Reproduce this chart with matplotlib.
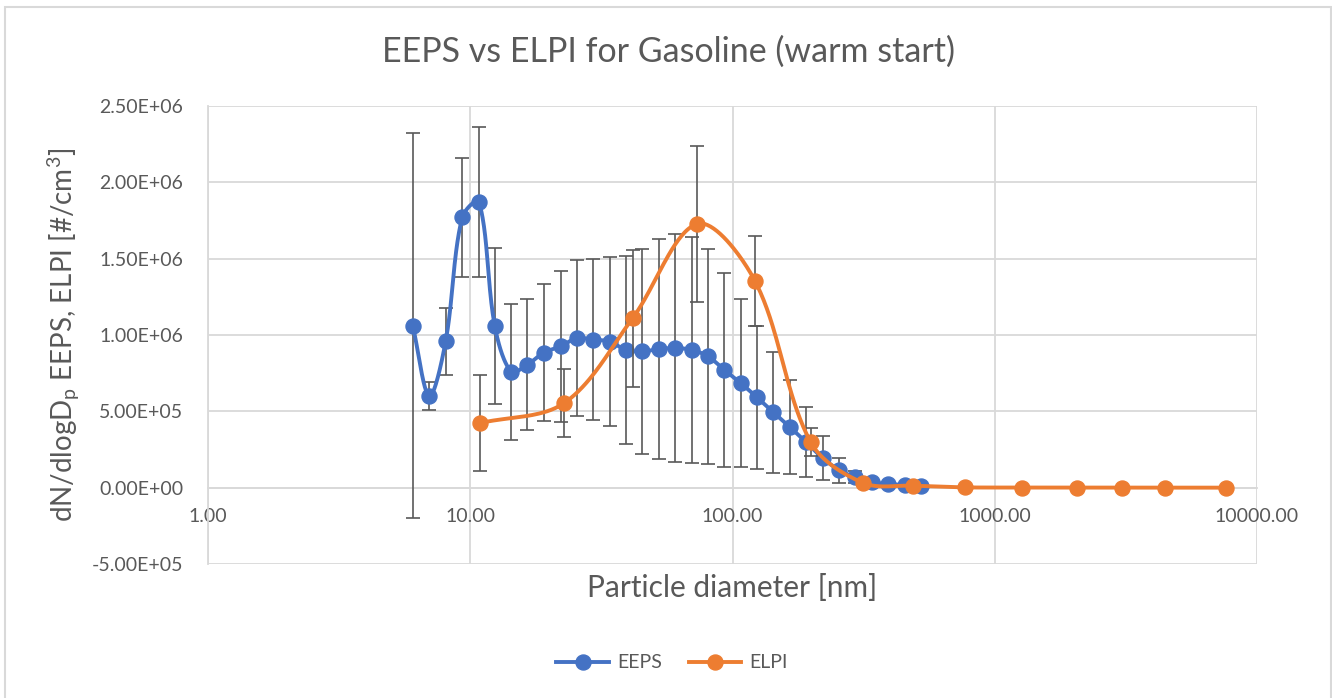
import numpy as np
import matplotlib
matplotlib.use("Agg")
import matplotlib.pyplot as plt
from matplotlib.ticker import FixedLocator, FuncFormatter
from matplotlib.lines import Line2D
from matplotlib.patches import Rectangle

# ---- data -------------------------------------------------------------
eeps_d = [6.04, 6.98, 8.06, 9.31, 10.8, 12.4, 14.3, 16.5, 19.1, 22.1, 25.5,
          29.4, 34.0, 39.2, 45.3, 52.3, 60.4, 69.8, 80.6, 93.1, 107.5, 124.1,
          143.3, 165.5, 191.1, 220.7, 254.8, 294.3, 339.8, 392.4, 453.2, 523.3]
eeps_n = [1.06e6, 6.0e5, 9.6e5, 1.77e6, 1.87e6, 1.06e6, 7.6e5, 8.05e5, 8.85e5,
          9.25e5, 9.8e5, 9.7e5, 9.57e5, 9.03e5, 8.92e5, 9.08e5, 9.14e5, 9.03e5,
          8.6e5, 7.72e5, 6.85e5, 5.91e5, 4.93e5, 3.97e5, 2.97e5, 1.94e5,
          1.15e5, 6.8e4, 3.6e4, 2.4e4, 1.8e4, 1.3e4]
eeps_err = [1.26e6, 9.0e4, 2.2e5, 3.9e5, 4.9e5, 5.1e5, 4.45e5, 4.3e5, 4.5e5,
            4.95e5, 5.1e5, 5.3e5, 5.55e5, 6.15e5, 6.7e5, 7.2e5, 7.45e5, 7.4e5,
            7.05e5, 6.35e5, 5.5e5, 4.7e5, 3.95e5, 3.1e5, 2.3e5, 1.45e5,
            8.2e4, 4.0e4, 0, 0, 0, 0]

elpi_d = [10.9, 22.8, 41.6, 73.4, 121.7, 198.5, 315, 489, 769, 1265, 2051,
          3044, 4452, 7650]
elpi_n = [4.23e5, 5.54e5, 1.11e6, 1.728e6, 1.355e6, 2.99e5, 3.1e4, 1.3e4,
          2.0e3, 1.0e3, 5.0e2, 3.0e2, 2.0e2, 1.0e2]
elpi_err = [3.13e5, 2.24e5, 4.5e5, 5.1e5, 2.95e5, 9.0e4, 0, 0, 0, 0, 0, 0, 0, 0]

x_ticks = [1, 10, 100, 1000, 10000]
y_ticks = [-5e5, 0, 5e5, 1e6, 1.5e6, 2e6, 2.5e6]

title = "EEPS vs ELPI for Gasoline (warm start)"
x_label = "Particle diameter [nm]"
y_label = r"dN/dlogD$_\mathregular{p}$ EEPS, ELPI [#/cm$^\mathregular{3}$]"

# ---- style ------------------------------------------------------------
plt.rcParams["font.family"] = ["Lato", "DejaVu Sans"]
plt.rcParams["mathtext.fontset"] = "custom"
plt.rcParams["mathtext.rm"] = "Lato"
plt.rcParams["mathtext.it"] = "Lato:italic"

TEXT = "#595959"
GRID = "#d9d9d9"
BLUE = "#4472c4"
ORANGE = "#ed7d31"
ERR = "#595959"

W, H = 1332, 698
fig = plt.figure(figsize=(W / 100, H / 100), dpi=100)
fig.patch.set_facecolor("white")

# chart frame
fig.patches.append(Rectangle((5 / W, -0.01), 1326 / W, (H - 7) / H + 0.01,
                             transform=fig.transFigure, fill=False,
                             edgecolor=GRID, lw=1.5))

L, R, T, B = 208, 1257, 106, 564
ax = fig.add_axes([L / W, 1 - B / H, (R - L) / W, (B - T) / H])
ax.set_xscale("log")
ax.set_xlim(x_ticks[0], x_ticks[-1])
ax.set_ylim(y_ticks[0], y_ticks[-1])

ax.xaxis.set_major_locator(FixedLocator(x_ticks))
ax.xaxis.set_minor_locator(FixedLocator([]))
ax.xaxis.set_major_formatter(FuncFormatter(lambda v, p: f"{v:.2f}"))
ax.yaxis.set_major_locator(FixedLocator(y_ticks))
ax.yaxis.set_major_formatter(FuncFormatter(lambda v, p: f"{v:.2E}"))

ax.grid(True, color=GRID, lw=1.3, zorder=0)
ax.set_axisbelow(True)
for s in ("top", "right"):
    ax.spines[s].set_visible(False)
ax.spines["left"].set_color(GRID)
ax.spines["left"].set_linewidth(1.3)
ax.spines["bottom"].set_position(("data", 0))
ax.spines["bottom"].set_color(GRID)
ax.spines["bottom"].set_linewidth(1.3)
ax.tick_params(axis="both", length=0, labelsize=14, labelcolor=TEXT)
ax.tick_params(axis="y", pad=18)
ax.tick_params(axis="x", pad=15)


def smooth(xs, ys, n=40):
    """Smoothed line made of cubic Bezier segments whose control points
    are weighted by the neighbouring chord lengths (in display geometry)."""
    u = np.log10(np.asarray(xs, float)) / 4.0 * (R - L)
    v = (np.asarray(ys, float) + 5e5) / 3e6 * (B - T)
    P = np.column_stack([u, v])
    out = []
    t = np.linspace(0, 1, n)[:, None]
    m = len(P)
    for i in range(m - 1):
        p0 = P[i - 1] if i > 0 else P[i]
        p1, p2 = P[i], P[i + 1]
        p3 = P[i + 2] if i + 2 < m else P[i + 1]
        d01 = np.hypot(*(p1 - p0))
        d12 = np.hypot(*(p2 - p1))
        d23 = np.hypot(*(p3 - p2))
        w1 = d12 / (d01 + d12) if d01 + d12 > 0 else 0.5
        w2 = d12 / (d12 + d23) if d12 + d23 > 0 else 0.5
        c1 = p1 + (p2 - p0) * w1 / 3.0
        c2 = p2 - (p3 - p1) * w2 / 3.0
        seg = ((1 - t) ** 3) * p1 + 3 * ((1 - t) ** 2) * t * c1 \
            + 3 * (1 - t) * t ** 2 * c2 + t ** 3 * p2
        out.append(seg if i == 0 else seg[1:])
    S = np.vstack(out)
    sx = 10 ** (S[:, 0] / (R - L) * 4.0)
    sy = S[:, 1] / (B - T) * 3e6 - 5e5
    return sx, sy


def series(d, n, err, color, z):
    ax.errorbar(d, n, yerr=err, fmt="none", ecolor=ERR, elinewidth=1.2,
                capsize=5, capthick=1.2, zorder=z)
    sx, sy = smooth(d, n)
    ax.plot(sx, sy, color=color, lw=2.8, zorder=z + 0.1,
            solid_capstyle="round", clip_on=False)
    ax.plot(d, n, "o", color=color, ms=10.8, mec=color, zorder=z + 0.2,
            clip_on=False)


series(eeps_d, eeps_n, eeps_err, BLUE, 3)
series(elpi_d, elpi_n, elpi_err, ORANGE, 4)

ax.set_xlabel(x_label, fontsize=21.5, color=TEXT)
ax.xaxis.set_label_coords(0.5, (B - 588) / (B - T))
ax.xaxis.label.set_va("center")
ax.set_ylabel(y_label, fontsize=20, color=TEXT)
ax.yaxis.set_label_coords((64 - L) / (R - L), 0.5)
ax.yaxis.label.set_va("center")

fig.text(669 / W, 1 - 52 / H, title, ha="center", va="center",
         fontsize=24.5, color=TEXT)

handles = [Line2D([], [], color=BLUE, lw=2.8, marker="o", ms=10.8),
           Line2D([], [], color=ORANGE, lw=2.8, marker="o", ms=10.8)]
fig.legend(handles, ["EEPS", "ELPI"], loc="center",
           bbox_to_anchor=(672 / W, 1 - 663 / H), ncol=2, frameon=False,
           fontsize=14, labelcolor=TEXT, handlelength=2.7,
           handletextpad=0.4, columnspacing=1.4)

fig.savefig("out.png", dpi=100, facecolor="white")
